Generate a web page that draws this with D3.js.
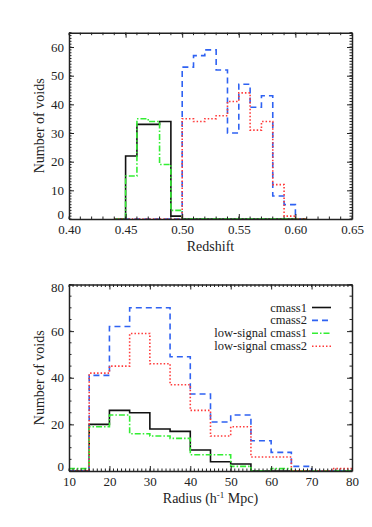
<!DOCTYPE html>
<html>
<head>
<meta charset="utf-8">
<script src="https://cdn.jsdelivr.net/npm/d3@7"></script>
<style>
  body { margin: 0; background: #fff; }
  svg text { font-family: "Liberation Serif", "DejaVu Serif", serif; fill: #222; }
</style>
</head>
<body>
<div id="chart"></div>
<script>
// redshift histograms (bin left edges, width 0.01)
const zBins = [0.44, 0.45, 0.46, 0.47, 0.48, 0.49, 0.50, 0.51, 0.52, 0.53, 0.54, 0.55, 0.56, 0.57, 0.58, 0.59, 0.60];
const cmass1Z    = [0, 22, 33, 33, 34, 1, 0, 0, 0, 0, 0, 0, 0, 0, 0, 0, 0];
const cmass2Z    = [0, 0, 0, 0, 0, 0, 53, 57, 59, 52, 30, 47, 39, 43, 8, 5, 0];
const lowCmass1Z = [0, 15, 35, 34, 19, 3, 0, 0, 0, 0, 0, 0, 0, 0, 0, 0, 0];
const lowCmass2Z = [0, 0, 0, 0, 0, 0, 35, 34, 35, 36, 41, 44, 31, 34, 12, 1, 0];
const zTicks = [0.40, 0.45, 0.50, 0.55, 0.60, 0.65];
const zCountTicks = [0, 10, 20, 30, 40, 50, 60];

// radius histograms (bin left edges, width 5)
const rBins = [10, 15, 20, 25, 30, 35, 40, 45, 50, 55, 60, 65, 70, 75];
const cmass1R    = [0, 20, 26, 25, 18, 17, 9, 4, 3, 0, 0, 0, 0, 0];
const cmass2R    = [0, 41, 62, 70, 70, 49, 33, 21, 24, 13, 8, 2, 0, 0];
const lowCmass1R = [1, 19, 24, 16, 15, 14, 7, 7, 2, 0, 1, 0, 0, 0];
const lowCmass2R = [0, 42, 45, 59, 46, 37, 26, 15, 19, 6, 6, 0, 0, 1];
const rTicks = [10, 20, 30, 40, 50, 60, 70, 80];
const rCountTicks = [0, 20, 40, 60, 80];

const seriesNames = ['cmass1', 'cmass2', 'low-signal cmass1', 'low-signal cmass2'];
const seriesColors = ['#111111', '#2f62f2', '#33ee33', '#ff3a3a'];
const seriesDash = [null, '6,4', '6,2,1.5,2', '1.5,2'];

const width = 372;
const height = 527;
const left = 69, right = 352;

const svg = d3.select('#chart')
	.append('svg')
	.attr('width', width)
	.attr('height', height);

function panel(opts) {
	const x = d3.scaleLinear().domain(opts.xDomain).range([left, right]);
	const y = d3.scaleLinear().domain(opts.yDomain).range([opts.bottom, opts.top]);
	const g = svg.append('g');

	g.append('clipPath').attr('id', opts.id)
		.append('rect')
		.attr('x', left).attr('y', opts.top)
		.attr('width', right - left).attr('height', opts.bottom - opts.top);

	// histograms
	const line = d3.line()
		.x(d => x(d[0]))
		.y(d => y(d[1]))
		.curve(d3.curveStepAfter);
	opts.series.forEach(function (vals, i) {
		const pts = opts.bins.map((b, j) => [b, vals[j]]);
		pts.push([opts.bins[opts.bins.length - 1] + opts.binWidth, vals[vals.length - 1]]);
		g.append('path')
			.attr('d', line(pts))
			.attr('fill', 'none')
			.attr('stroke', seriesColors[i])
			.attr('stroke-width', 1.6)
			.attr('stroke-dasharray', seriesDash[i])
			.attr('clip-path', 'url(#' + opts.id + ')');
	});

	// minor ticks
	const minorX = d3.range(opts.xDomain[0], opts.xDomain[1] + opts.xMinor / 2, opts.xMinor);
	const minorY = d3.range(opts.yDomain[0], opts.yDomain[1] + opts.yMinor / 2, opts.yMinor);
	const mt = g.append('g').attr('stroke', '#222').attr('stroke-width', 1);
	minorX.forEach(function (v) {
		mt.append('line').attr('x1', x(v)).attr('x2', x(v)).attr('y1', opts.bottom).attr('y2', opts.bottom - 2.5);
		mt.append('line').attr('x1', x(v)).attr('x2', x(v)).attr('y1', opts.top).attr('y2', opts.top + 2.5);
	});
	minorY.forEach(function (v) {
		mt.append('line').attr('y1', y(v)).attr('y2', y(v)).attr('x1', left).attr('x2', left + 2.5);
		mt.append('line').attr('y1', y(v)).attr('y2', y(v)).attr('x1', right).attr('x2', right - 2.5);
	});

	// axes
	const xa = g.append('g')
		.attr('transform', 'translate(0,' + opts.bottom + ')')
		.call(d3.axisBottom(x).tickValues(opts.xTicks).tickFormat(opts.xFormat)
			.tickSizeInner(-5).tickSizeOuter(0).tickPadding(6));
	g.append('g')
		.attr('transform', 'translate(0,' + opts.top + ')')
		.call(d3.axisTop(x).tickValues(opts.xTicks).tickFormat('')
			.tickSizeInner(-5).tickSizeOuter(0));
	const ya = g.append('g')
		.attr('transform', 'translate(' + left + ',0)')
		.call(d3.axisLeft(y).tickValues(opts.yTicks).tickFormat(d3.format('d'))
			.tickSizeInner(-5).tickSizeOuter(0).tickPadding(5));
	g.append('g')
		.attr('transform', 'translate(' + right + ',0)')
		.call(d3.axisRight(y).tickValues(opts.yTicks).tickFormat('')
			.tickSizeInner(-5).tickSizeOuter(0));

	g.selectAll('.domain').attr('stroke', '#222').attr('stroke-width', 1.5);
	g.selectAll('.tick line').attr('stroke', '#222').attr('stroke-width', 1);
	xa.selectAll('text').style('font-size', '13px').attr('fill', '#222');
	ya.selectAll('text').style('font-size', '13px').attr('fill', '#222')
		.attr('dy', d => d === opts.yDomain[0] ? '-0.05em' : (d === opts.yDomain[1] ? '0.55em' : '0.32em'));

	g.append('text')
		.attr('x', (left + right) / 2)
		.attr('y', opts.bottom + 32)
		.attr('text-anchor', 'middle')
		.style('font-size', '14px')
		.text(opts.xTitle);
	g.append('text')
		.attr('transform', 'translate(44,' + ((opts.top + opts.bottom) / 2) + ') rotate(-90)')
		.attr('text-anchor', 'middle')
		.style('font-size', '14px')
		.text('Number of voids');
	return { g: g, x: x, y: y };
}

panel({
	id: 'clipTop',
	xDomain: [0.40, 0.65], yDomain: [0, 65],
	top: 32.7, bottom: 219,
	bins: zBins, binWidth: 0.01,
	series: [cmass1Z, cmass2Z, lowCmass1Z, lowCmass2Z],
	xTicks: zTicks, xFormat: d3.format('.2f'), xMinor: 0.01,
	yTicks: zCountTicks, yMinor: 1,
	xTitle: 'Redshift'
});

const bottomPanel = panel({
	id: 'clipBottom',
	xDomain: [10, 80], yDomain: [0, 80],
	top: 284.5, bottom: 471,
	bins: rBins, binWidth: 5,
	series: [cmass1R, cmass2R, lowCmass1R, lowCmass2R],
	xTicks: rTicks, xFormat: d3.format('d'), xMinor: 1,
	yTicks: rCountTicks, yMinor: 5,
	xTitle: ''
});

// x title with superscript
const rt = bottomPanel.g.append('text')
	.attr('x', (left + right) / 2)
	.attr('y', 503)
	.attr('text-anchor', 'middle')
	.style('font-size', '14px');
rt.append('tspan').text('Radius (h');
rt.append('tspan').attr('dy', -5).style('font-size', '9px').text('-1');
rt.append('tspan').attr('dy', 5).text(' Mpc)');

// legend
const legend = bottomPanel.g.append('g');
seriesNames.forEach(function (name, i) {
	const ly = 307.5 + i * 12.9;
	legend.append('text')
		.attr('x', 307)
		.attr('y', ly)
		.attr('dy', '0.32em')
		.attr('text-anchor', 'end')
		.style('font-size', '12.5px')
		.text(name);
	legend.append('line')
		.attr('x1', 312).attr('x2', 331)
		.attr('y1', ly).attr('y2', ly)
		.attr('stroke', seriesColors[i])
		.attr('stroke-width', 1.6)
		.attr('stroke-dasharray', seriesDash[i]);
});
</script>
</body>
</html>
